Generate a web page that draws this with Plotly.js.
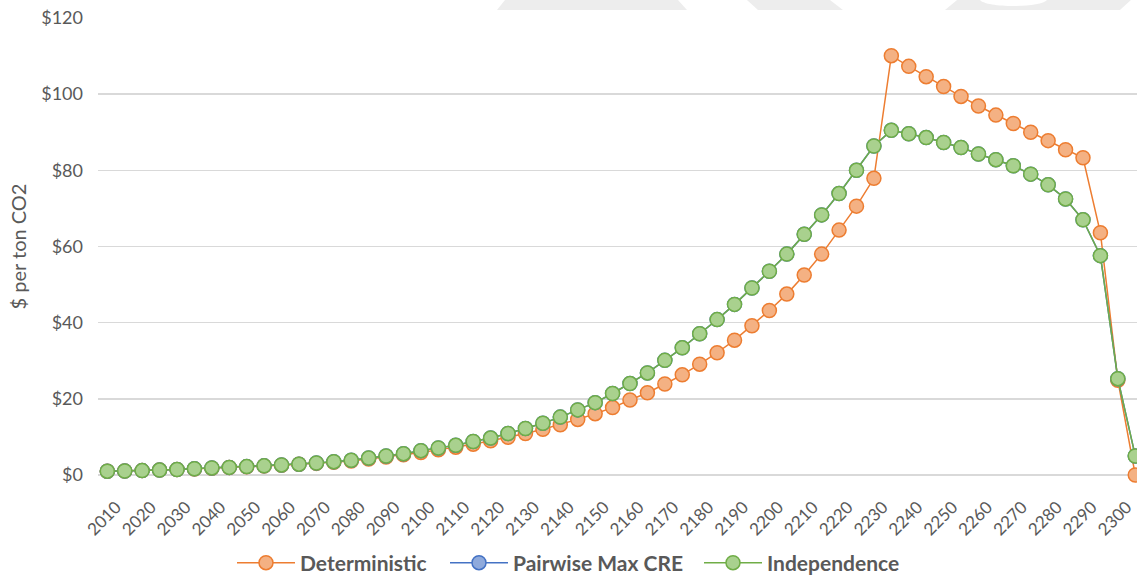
<!DOCTYPE html>
<html>
<head>
<meta charset="utf-8">
<script src="https://cdn.plot.ly/plotly-3.0.1.min.js"></script>
<style>
  html, body { margin: 0; padding: 0; background: #ffffff; }
  #chart { width: 1137px; height: 577px; }
</style>
</head>
<body>
<div id="chart"></div>
<script>
// ---- Data ----
const years = [2010, 2015, 2020, 2025, 2030, 2035, 2040, 2045, 2050, 2055,
               2060, 2065, 2070, 2075, 2080, 2085, 2090, 2095, 2100, 2105,
               2110, 2115, 2120, 2125, 2130, 2135, 2140, 2145, 2150, 2155,
               2160, 2165, 2170, 2175, 2180, 2185, 2190, 2195, 2200, 2205,
               2210, 2215, 2220, 2225, 2230, 2235, 2240, 2245, 2250, 2255,
               2260, 2265, 2270, 2275, 2280, 2285, 2290, 2295, 2300, 2305];

const deterministic = [1.0, 1.05, 1.15, 1.3, 1.45, 1.6, 1.8, 1.95, 2.15, 2.35,
                       2.55, 2.8, 3.05, 3.35, 3.7, 4.2, 4.7, 5.3, 5.9, 6.6,
                       7.3, 8.1, 9.0, 9.9, 10.9, 12.0, 13.2, 14.6, 16.1, 17.7,
                       19.7, 21.6, 23.9, 26.3, 29.1, 32.1, 35.4, 39.2, 43.2, 47.5,
                       52.5, 58.0, 64.3, 70.6, 77.9, 110.1, 107.3, 104.6, 102.0, 99.4,
                       96.9, 94.5, 92.3, 90.0, 87.8, 85.4, 83.3, 63.6, 24.9, 0.0];

const pairwiseMaxCRE = [1.0, 1.05, 1.15, 1.3, 1.45, 1.65, 1.85, 2.0, 2.2, 2.4,
                        2.65, 2.85, 3.15, 3.5, 3.85, 4.45, 5.0, 5.6, 6.4, 7.1,
                        7.8, 8.8, 9.7, 10.9, 12.2, 13.6, 15.2, 17.1, 19.0, 21.4,
                        24.0, 26.8, 30.1, 33.4, 37.1, 40.8, 44.8, 49.1, 53.5, 58.0,
                        63.2, 68.3, 73.9, 80.0, 86.4, 90.5, 89.6, 88.6, 87.3, 86.0,
                        84.3, 82.8, 81.2, 79.0, 76.2, 72.5, 67.0, 57.6, 25.3, 5.0];

const independence = [1.0, 1.05, 1.15, 1.3, 1.45, 1.65, 1.85, 2.0, 2.2, 2.4,
                      2.65, 2.85, 3.15, 3.5, 3.85, 4.45, 5.0, 5.6, 6.4, 7.1,
                      7.8, 8.8, 9.7, 10.9, 12.2, 13.6, 15.2, 17.1, 19.0, 21.4,
                      24.0, 26.8, 30.1, 33.4, 37.1, 40.8, 44.8, 49.1, 53.5, 58.0,
                      63.2, 68.3, 73.9, 80.0, 86.4, 90.5, 89.6, 88.6, 87.3, 86.0,
                      84.3, 82.8, 81.2, 79.0, 76.2, 72.5, 67.0, 57.6, 25.3, 5.0];

const tickYears = [2010, 2020, 2030, 2040, 2050, 2060, 2070, 2080, 2090, 2100,
                   2110, 2120, 2130, 2140, 2150, 2160, 2170, 2180, 2190, 2200,
                   2210, 2220, 2230, 2240, 2250, 2260, 2270, 2280, 2290, 2300];
const tickLabels = tickYears.map(String);

const seriesNames = ["Deterministic", "Pairwise Max CRE", "Independence"];

// ---- Styling ----
const W = 1137, H = 577;
const M = {l: 98, r: 0, t: 18, b: 102, autoexpand: false};
const textColor = '#595959';
const FONT = 'Lato, "Open Sans", "DejaVu Sans", sans-serif';
const plotW = W - M.l - M.r, plotH = H - M.t - M.b;
const px = x => (x - M.l) / plotW;
const py = y => (H - M.b - y) / plotH;

function makeTrace(name, y, lineColor, fillColor, legendId) {
  return {
    type: 'scatter', mode: 'lines+markers', name: name,
    x: years, y: y, cliponaxis: false, legend: legendId,
    line: {color: lineColor, width: 1.5},
    marker: {symbol: 'circle', size: 14, color: fillColor,
             line: {color: lineColor, width: 1.5}}
  };
}

const traces = [
  makeTrace(seriesNames[0], deterministic, '#ED7D31', '#F4B183', 'legend'),
  makeTrace(seriesNames[1], pairwiseMaxCRE, '#4472C4', '#8FAADC', 'legend2'),
  makeTrace(seriesNames[2], independence, '#70AD47', '#A9D18E', 'legend3')
];

// faint watermark fragments at the top edge (decoration)
const f = v => v.toFixed(4);
function wm(path) {
  return {type: 'path', xref: 'paper', yref: 'paper', layer: 'below',
          fillcolor: '#EDEDED', line: {width: 0}, path: path};
}
const shapes = [
  wm(`M ${f(px(505))},${f(py(0))} L ${f(px(678))},${f(py(0))} L ${f(px(687))},${f(py(10))} L ${f(px(497))},${f(py(10))} Z`),
  wm(`M ${f(px(747))},${f(py(0))} L ${f(px(830))},${f(py(0))} L ${f(px(843))},${f(py(10))} L ${f(px(758))},${f(py(10))} Z`),
  wm(`M ${f(px(957))},${f(py(0))} L ${f(px(980))},${f(py(0))} C ${f(px(986))},${f(py(8))} ${f(px(1041))},${f(py(8))} ${f(px(1047))},${f(py(0))} L ${f(px(1131))},${f(py(0))} L ${f(px(1120))},${f(py(10))} L ${f(px(945))},${f(py(10))} Z`)
];

const legendFont = {size: 21, color: textColor, family: FONT, weight: 'bold'};
const ITEMW = 58;
function legendAt(textStartPx) {
  return {
    orientation: 'h', x: px(textStartPx - (ITEMW + 10)), xanchor: 'left',
    y: py(563), yanchor: 'middle', itemwidth: ITEMW,
    font: legendFont, bgcolor: 'rgba(0,0,0,0)',
    itemclick: false, itemdoubleclick: false
  };
}

const layout = {
  width: W, height: H,
  margin: M,
  paper_bgcolor: '#ffffff', plot_bgcolor: '#ffffff',
  font: {family: FONT, color: textColor},
  showlegend: true,
  xaxis: {
    range: [2007.33, 2305.5], automargin: false,
    tickmode: 'array', tickvals: tickYears, ticktext: tickLabels,
    tickangle: -45, tickfont: {size: 17, color: textColor, family: FONT},
    ticklabelstandoff: 18, ticklabelshift: 9,
    showgrid: false, zeroline: false, showline: false, ticks: '',
    fixedrange: true
  },
  yaxis: {
    range: [0, 120], dtick: 20, tick0: 0, tickprefix: '$', automargin: false,
    tickfont: {size: 18, color: textColor, family: FONT},
    gridcolor: '#D9D9D9', gridwidth: 1.6,
    zeroline: true, zerolinecolor: '#D9D9D9', zerolinewidth: 1.6,
    showline: false, ticks: '', ticklabelstandoff: 14,
    title: {text: '$ per ton CO2', font: {size: 20, color: textColor, family: FONT}, standoff: 9},
    fixedrange: true
  },
  legend: legendAt(300),
  legend2: legendAt(513),
  legend3: legendAt(767),
  shapes: shapes
};

Plotly.newPlot('chart', traces, layout, {displayModeBar: false, staticPlot: true});
</script>
</body>
</html>
